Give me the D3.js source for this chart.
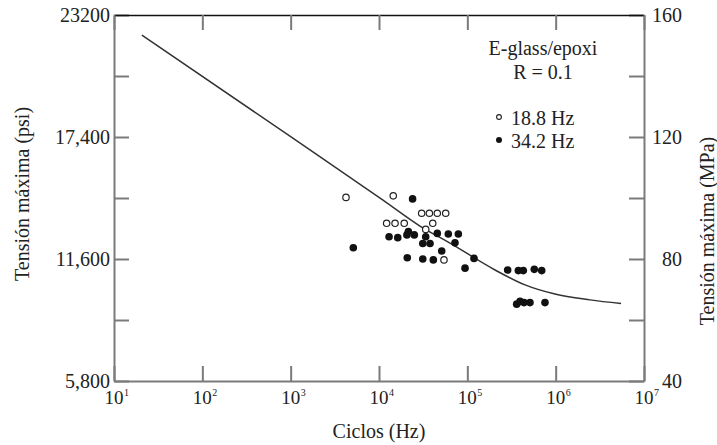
<!DOCTYPE html>
<html>
<head>
<meta charset="utf-8">
<script src="https://cdn.jsdelivr.net/npm/d3@7"></script>
<style>
  body { margin: 0; background: #fff; }
  svg text { font-family: "Liberation Serif", "Times New Roman", serif; fill: #222; }
</style>
</head>
<body>
<div id="chart"></div>
<script>
// cycles (N) and max stress in MPa
const openN   = [4230, 14500, 30400, 37200, 45700, 56900, 12200, 15200, 19300, 40600, 33800, 54400];
const openMPa = [100.2, 100.7, 95.0, 95.0, 95.0, 95.0, 91.7, 91.7, 91.7, 91.7, 89.7, 79.7];

const fillN   = [24000, 5120, 13000, 16300, 21500, 20700, 25100, 33800, 31300, 37800, 45700, 60900, 79100, 72500, 51300,
                 20900, 31300, 41200, 119000, 94200, 286000, 378000, 430000, 573000, 695000, 362000, 395000, 438000, 512000, 757000];
const fillMPa = [99.7, 83.7, 87.3, 87.0, 89.0, 87.9, 87.9, 87.3, 85.1, 85.1, 88.4, 88.2, 88.2, 85.3, 82.6,
                 80.4, 80.0, 79.7, 80.2, 77.0, 76.4, 76.2, 76.2, 76.6, 76.2, 65.2, 66.1, 65.7, 65.7, 65.7];

// fitted S-N curve
const curveN   = [20.7, 1000, 11100, 29100, 63700, 206000, 450000, 982000, 2450000, 5500000];
const curveMPa = [153.4, 120.1, 99.3, 90.8, 85.2, 76.4, 71.5, 68.5, 66.6, 65.4];

const decades   = [1, 2, 3, 4, 5, 6, 7];
const psiTicks  = [5800, 8700, 11600, 14500, 17400, 20300, 23200];
const psiLabels = ["5,800", "", "11,600", "", "17,400", "", "23200"];
const mpaTicks  = [40, 60, 80, 100, 120, 140, 160];
const mpaLabels = ["40", "", "80", "", "120", "", "160"];

const W = 717, H = 445;
const mLeft = 114, mRight = 644, mTop = 15, mBottom = 381;
const axisGrey = "#7a7a7a";

const svg = d3.select("#chart").append("svg")
    .attr("width", W).attr("height", H);

const x = d3.scaleLog().domain([10, 1e7]).range([mLeft, mRight]);
const yMPa = d3.scaleLinear().domain([40, 160]).range([mBottom, mTop]);
const yPsi = d3.scaleLinear().domain([5800, 23200]).range([mBottom, mTop]);

// left axis (psi)
const gLeft = svg.append("g")
    .attr("transform", "translate(" + mLeft + ",0)")
    .call(d3.axisLeft(yPsi).tickValues(psiTicks).tickSize(-15).tickSizeOuter(0).tickPadding(4)
        .tickFormat((d, i) => psiLabels[i]));

// right axis (MPa)
const gRight = svg.append("g")
    .attr("transform", "translate(" + mRight + ",0)")
    .call(d3.axisRight(yMPa).tickValues(mpaTicks).tickSize(-15).tickSizeOuter(0)
        .tickFormat((d, i) => mpaLabels[i]));
gRight.selectAll("text").attr("text-anchor", "end").attr("x", 38);

// bottom and top axes, ticks only
const gBottom = svg.append("g")
    .attr("transform", "translate(0," + mBottom + ")")
    .call(d3.axisBottom(x).tickValues(decades.map(d => Math.pow(10, d))).tickSize(-15).tickSizeOuter(0).tickFormat(""));

const gTop = svg.append("g")
    .attr("transform", "translate(0," + mTop + ")")
    .call(d3.axisTop(x).tickValues(decades.map(d => Math.pow(10, d))).tickSize(-15).tickSizeOuter(0).tickFormat(""));

[gLeft, gRight, gBottom].forEach(g => {
  g.selectAll("path, line").attr("stroke", axisGrey).attr("stroke-width", 2);
  g.selectAll("text").attr("font-size", 20).attr("fill", "#222");
});
gTop.selectAll("line").attr("stroke", axisGrey).attr("stroke-width", 2);
gTop.select("path").attr("stroke", "#111").attr("stroke-width", 1.6);

// decade labels 10^n
const xl = svg.append("g");
decades.forEach(d => {
  const px = x(Math.pow(10, d));
  xl.append("text").attr("x", px).attr("y", 404)
    .attr("text-anchor", "middle").attr("font-size", 19).text("10");
  xl.append("text").attr("x", px + 10).attr("y", 396)
    .attr("font-size", 10).text(d);
});

// axis titles
svg.append("text")
    .attr("x", 379).attr("y", 438)
    .attr("text-anchor", "middle").attr("font-size", 20)
    .text("Ciclos (Hz)");

svg.append("text")
    .attr("transform", "translate(29,194) rotate(-90)")
    .attr("text-anchor", "middle").attr("font-size", 20)
    .text("Tensión máxima (psi)");

svg.append("text")
    .attr("transform", "translate(714,231) rotate(-90)")
    .attr("text-anchor", "middle").attr("font-size", 20)
    .text("Tensión máxima (MPa)");

// curve
const line = d3.line()
    .x(d => x(d[0]))
    .y(d => yMPa(d[1]))
    .curve(d3.curveMonotoneX);

svg.append("path")
    .datum(d3.zip(curveN, curveMPa))
    .attr("d", line)
    .attr("fill", "none")
    .attr("stroke", "#333")
    .attr("stroke-width", 1.5);

// points
svg.append("g").selectAll("circle")
    .data(d3.zip(openN, openMPa))
    .enter().append("circle")
    .attr("cx", d => x(d[0]))
    .attr("cy", d => yMPa(d[1]))
    .attr("r", 3.2)
    .attr("fill", "#fff")
    .attr("stroke", "#222")
    .attr("stroke-width", 1.2);

svg.append("g").selectAll("circle")
    .data(d3.zip(fillN, fillMPa))
    .enter().append("circle")
    .attr("cx", d => x(d[0]))
    .attr("cy", d => yMPa(d[1]))
    .attr("r", 3.8)
    .attr("fill", "#111");

// legend
const lg = svg.append("g");
lg.append("text").attr("x", 543).attr("y", 55).attr("text-anchor", "middle")
  .attr("font-size", 20).text("E-glass/epoxi");
lg.append("text").attr("x", 543).attr("y", 79).attr("text-anchor", "middle")
  .attr("font-size", 20).text("R = 0.1");
lg.append("circle").attr("cx", 499).attr("cy", 117).attr("r", 2.4)
  .attr("fill", "#fff").attr("stroke", "#222").attr("stroke-width", 1.1);
lg.append("text").attr("x", 511).attr("y", 125).attr("font-size", 20).text("18.8 Hz");
lg.append("circle").attr("cx", 499).attr("cy", 140).attr("r", 3)
  .attr("fill", "#111");
lg.append("text").attr("x", 511).attr("y", 148).attr("font-size", 20).text("34.2 Hz");
</script>
</body>
</html>
